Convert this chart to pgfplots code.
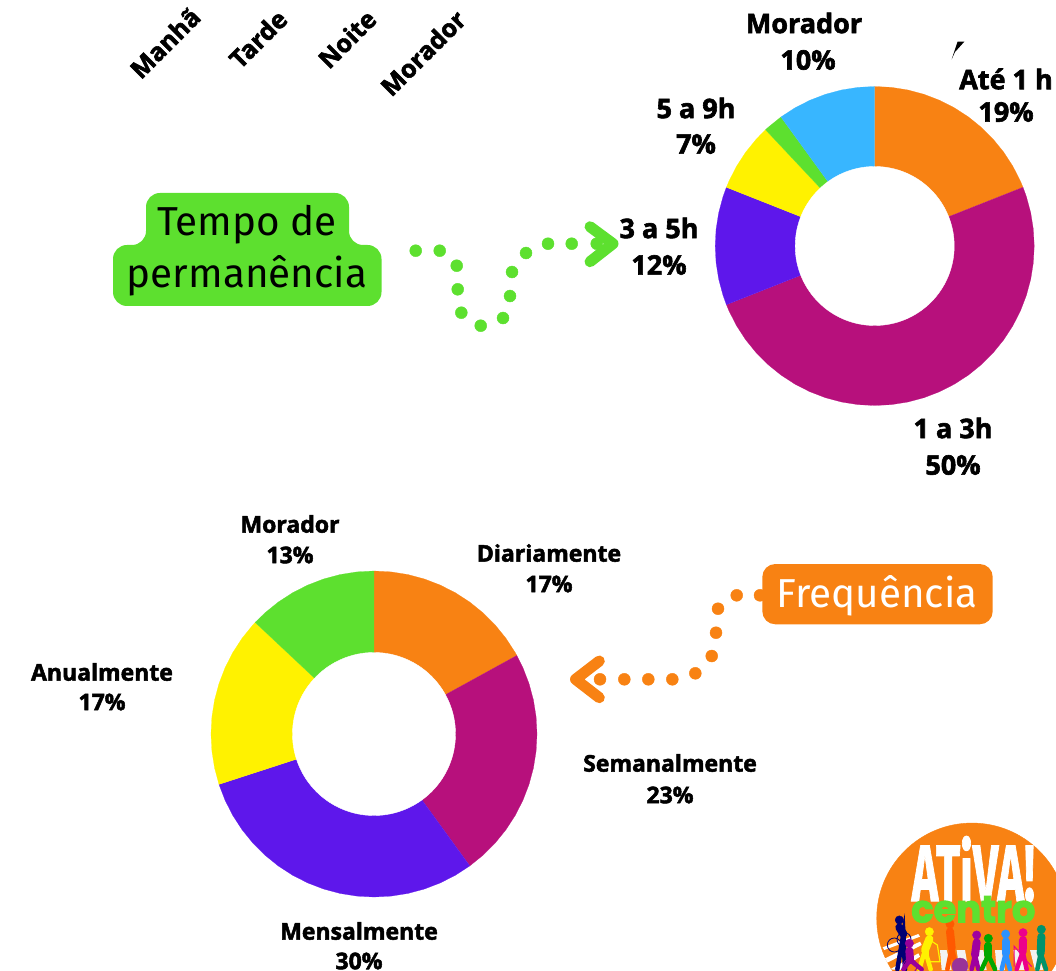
\documentclass[border=0pt]{standalone}
\usepackage{fontspec}
\usepackage{graphicx}
\usepackage{pgfplots}
\pgfplotsset{compat=1.18}
\setmainfont{Open Sans}
\newfontfamily\lab[BoldFeatures={FakeBold=2.2}]{Open Sans}
\newfontfamily\head{Fira Sans}
\newfontfamily\logoa[BoldFeatures={FakeBold=1.5}]{Fira Sans}
\newfontfamily\logob[BoldFeatures={FakeBold=2.5}]{Poppins}
\definecolor{cO}{HTML}{F88213}
\definecolor{cM}{HTML}{B7107C}
\definecolor{cV}{HTML}{5E17EB}
\definecolor{cY}{HTML}{FFF200}
\definecolor{cG}{HTML}{5DE02F}
\definecolor{cB}{HTML}{38B6FF}
\pgfplotsset{
  ring/.style={hide axis,scale only axis,clip=false,xmin=-1,xmax=1,ymin=-1,ymax=1,anchor=center},
  wedge/.style={fill=#1,draw=#1,line width=0.2pt,mark=none,forget plot,data cs=polar},
  page/.style={hide axis,scale only axis,clip=false,xmin=0,xmax=1056,ymin=0,ymax=970,y dir=reverse,
    width=1056pt,height=970pt,at={(0pt,0pt)},anchor=south west},
}
\tikzset{L/.style={font=\lab\bfseries\fontsize{27}{30}\selectfont,inner sep=0pt,anchor=center,yshift=1pt},
         R/.style={font=\lab\bfseries\fontsize{25}{28}\selectfont,inner sep=0pt,anchor=center,rotate=45},
         S/.style={font=\lab\bfseries\fontsize{23}{26}\selectfont,inner sep=0pt,anchor=center,yshift=1pt},
         H/.style={font=\head\fontsize{40.4}{44}\selectfont,inner sep=0pt,anchor=center,yshift=-2.5pt}}
\newcommand{\fig}[7]{%
  \addplot[#1,line width=8pt,line cap=round,line join=round,mark=none,forget plot] coordinates {(#2,#3+22) (#4,#5)};
  \addplot[#1,line width=4.5pt,line cap=round,mark=none,forget plot] coordinates {(#6,478) (#4,#5) (#7,478)};
  \addplot[#1,only marks,mark=*,mark size=4.2pt,forget plot] coordinates {(#2,#3)};
}
\begin{document}
\begin{tikzpicture}[x=1pt,y=1pt]
\path[use as bounding box,clip] (0,0) rectangle (1056,970);
% upper ring
\begin{axis}[ring,width=319pt,height=319pt,at={(874.7pt,724pt)}]
\addplot[wedge=cO] coordinates {(0,0) (90,1) (84,1) (78,1) (72,1) (66,1) (60,1) (54,1) (48,1) (42,1) (36,1) (30,1) (24,1) (21.6,1)};
\addplot[wedge=cM] coordinates {(0,0) (21.6,1) (18,1) (12,1) (6,1) (0,1) (-6,1) (-12,1) (-18,1) (-24,1) (-30,1) (-36,1) (-42,1) (-48,1) (-54,1) (-60,1) (-66,1) (-72,1) (-78,1) (-84,1) (-90,1) (-96,1) (-102,1) (-108,1) (-114,1) (-120,1) (-126,1) (-132,1) (-138,1) (-144,1) (-150,1) (-156,1) (-158.4,1)};
\addplot[wedge=cV] coordinates {(0,0) (-158.4,1) (-162,1) (-168,1) (-174,1) (-180,1) (-186,1) (-192,1) (-198,1) (-201.6,1)};
\addplot[wedge=cY] coordinates {(0,0) (-201.6,1) (-204,1) (-210,1) (-216,1) (-222,1) (-226.8,1)};
\addplot[wedge=cG] coordinates {(0,0) (-226.8,1) (-228,1) (-234,1)};
\addplot[wedge=cB] coordinates {(0,0) (-234,1) (-240,1) (-246,1) (-252,1) (-258,1) (-264,1) (-270,1)};
\addplot[only marks,mark=*,mark size=79.5pt,white,forget plot] coordinates {(0,0)};
\end{axis}
% lower ring
\begin{axis}[ring,width=326pt,height=326pt,at={(374pt,236pt)}]
\addplot[wedge=cO] coordinates {(0,0) (90,1) (84,1) (78,1) (72,1) (66,1) (60,1) (54,1) (48,1) (42,1) (36,1) (30,1) (28.8,1)};
\addplot[wedge=cM] coordinates {(0,0) (28.8,1) (24,1) (18,1) (12,1) (6,1) (0,1) (-6,1) (-12,1) (-18,1) (-24,1) (-30,1) (-36,1) (-42,1) (-48,1) (-54,1)};
\addplot[wedge=cV] coordinates {(0,0) (-54,1) (-60,1) (-66,1) (-72,1) (-78,1) (-84,1) (-90,1) (-96,1) (-102,1) (-108,1) (-114,1) (-120,1) (-126,1) (-132,1) (-138,1) (-144,1) (-150,1) (-156,1) (-162,1)};
\addplot[wedge=cY] coordinates {(0,0) (-162,1) (-168,1) (-174,1) (-180,1) (-186,1) (-192,1) (-198,1) (-204,1) (-210,1) (-216,1) (-222,1) (-223.2,1)};
\addplot[wedge=cG] coordinates {(0,0) (-223.2,1) (-228,1) (-234,1) (-240,1) (-246,1) (-252,1) (-258,1) (-264,1) (-270,1)};
\addplot[only marks,mark=*,mark size=81.5pt,white,forget plot] coordinates {(0,0)};
\end{axis}
% boxes, dotted arrows
\begin{axis}[page]
\addplot[only marks,mark=*,mark size=6pt,cG,forget plot] coordinates {(415.7,250.7) (439.7,250.7) (456.7,265.7) (457.7,289.3) (461.3,312.7) (480.7,325.7) (503,318) (510,296) (512,272) (526,253) (548,243.7) (571.7,243.7) (596.7,243.7)};
\addplot[cG,line width=11pt,line cap=round,line join=round,mark=none,forget plot] coordinates {(590,226.7) (613,243.7) (590,261.7)};
\addplot[only marks,mark=*,mark size=6pt,cO,forget plot] coordinates {(760,595.3) (736.7,595.3) (718,608.7) (716,632.7) (711.7,656) (695.3,673.3) (672.3,679.3) (648.3,679.3) (624.3,679.3) (600,679.3)};
\addplot[cO,line width=11pt,line cap=round,line join=round,mark=none,forget plot] coordinates {(599.3,661) (575.5,679.3) (599.3,697.7)};
\addplot[fill=black,draw=none,mark=none,forget plot] coordinates {(951.7,59.3) (957.5,41.7) (964.3,41.7) (955,52)};
\end{axis}
\fill[cG,rounded corners=14pt] (146,777) -- (349,777) -- (349,725) -- (381.5,725) -- (381.5,664) -- (113,664) -- (113,725) -- (146,725) -- cycle;
\fill[cO,rounded corners=13pt] (762.3,406) rectangle (992.7,345.7);
% logo
\begin{axis}[hide axis,scale only axis,clip=true,xmin=0,xmax=648,ymin=0,ymax=480,y dir=reverse,
  width=216pt,height=160pt,at={(840pt,0pt)},anchor=south west]
\addplot[only marks,mark=*,mark size=95.3pt,cO,forget plot,clip mode=individual] coordinates {(396,325)};
\addplot[fill=white,draw=none,mark=none,forget plot] coordinates {(128,412) (235,372) (240,380) (133,420)};
\addplot[fill=white,draw=none,mark=none,forget plot] coordinates {(135,445) (240,395) (245,405) (142,458)};
\addplot[fill=white,draw=none,mark=none,forget plot] coordinates {(150,478) (235,430) (240,440) (180,480)};
\addplot[fill=black!5,draw=none,mark=none,forget plot] coordinates {(300,420) (320,420) (335,480) (305,480)};
\addplot[fill=black!5,draw=none,mark=none,forget plot] coordinates {(350,420) (375,420) (385,480) (358,480)};
\addplot[fill=black!5,draw=none,mark=none,forget plot] coordinates {(410,420) (430,420) (440,480) (415,480)};
\addplot[fill=black!5,draw=none,mark=none,forget plot] coordinates {(465,420) (485,420) (495,480) (470,480)};
\addplot[fill=black!5,draw=none,mark=none,forget plot] coordinates {(520,420) (540,420) (555,480) (530,480)};
\addplot[fill=black!5,draw=none,mark=none,forget plot] coordinates {(570,420) (590,420) (610,480) (585,480)};
% figures
\fig{blue!45!black}{178}{330}{190}{372}{172}{195}
\addplot[only marks,mark=o,mark size=7pt,thick,blue!45!black,forget plot] coordinates {(163,405) (192,388)};
\fig{cY}{268}{365}{255}{420}{238}{272}
\addplot[cY,line width=1.2pt,mark=none,forget plot] coordinates {(262,385) (292,405) (300,455) (265,455) (265,410)};
\fig{orange!70!red}{330}{342}{335}{415}{322}{352}
\fig{violet!80!magenta}{208}{400}{210}{450}{190}{245}
\addplot[only marks,mark=o,mark size=7pt,thick,violet!80!magenta,forget plot] coordinates {(210,468)};
\addplot[only marks,mark=*,mark size=8pt,violet!80,forget plot] coordinates {(360,468)};
\fig{violet!75!magenta}{410}{375}{405}{435}{395}{415}
\fig{green!65!black}{445}{385}{445}{435}{425}{465}
\fig{cB!80!blue}{497}{372}{497}{430}{485}{510}
\fig{magenta}{549}{368}{548}{425}{530}{560}
\addplot[magenta,line width=1pt,mark=none,forget plot] coordinates {(522,470) (522,408) (575,470)};
\fig{teal!85!green}{604}{358}{602}{430}{592}{618}
\end{axis}
\begin{axis}[hide axis,scale only axis,clip=false,xmin=0,xmax=648,ymin=0,ymax=480,y dir=reverse,
  width=216pt,height=160pt,at={(840pt,0pt)},anchor=south west]
\node[white,inner sep=0pt] at (axis cs:400,178) {\scalebox{0.56}[1]{\logoa\bfseries\fontsize{80}{80}\selectfont ATiVA!}};
\node[cG,inner sep=0pt] at (axis cs:400,298) {\scalebox{0.97}[1]{\logob\bfseries\fontsize{38}{38}\selectfont centro}};
\end{axis}
% text
\begin{axis}[page]
\node[H] at (axis cs:247,222) {Tempo de};
\node[H] at (axis cs:247,273) {permanência};
\node[H,white] at (axis cs:877,593) {Frequência};
\node[R] at (axis cs:165,43) {Manhã};
\node[R] at (axis cs:258,39) {Tarde};
\node[R] at (axis cs:347,39) {Noite};
\node[R] at (axis cs:423,53) {Morador};
\node[L] at (axis cs:804,24) {Morador};
\node[L] at (axis cs:808,61) {10\%};
\node[L] at (axis cs:1006,80) {Até 1 h};
\node[L] at (axis cs:1006,113) {19\%};
\node[L] at (axis cs:696,109) {5 a 9h};
\node[L] at (axis cs:696,145) {7\%};
\node[L] at (axis cs:659,229) {3 a 5h};
\node[L] at (axis cs:659,266) {12\%};
\node[L] at (axis cs:953,429) {1 a 3h};
\node[L] at (axis cs:953,466) {50\%};
\node[S] at (axis cs:290,525) {Morador};
\node[S] at (axis cs:290,556) {13\%};
\node[S] at (axis cs:549,554) {Diariamente};
\node[S] at (axis cs:549,585) {17\%};
\node[S] at (axis cs:102,673) {Anualmente};
\node[S] at (axis cs:102,703) {17\%};
\node[S] at (axis cs:670,764) {Semanalmente};
\node[S] at (axis cs:670,796) {23\%};
\node[S] at (axis cs:359,932) {Mensalmente};
\node[S] at (axis cs:359,962) {30\%};
\end{axis}
\end{tikzpicture}
\end{document}
